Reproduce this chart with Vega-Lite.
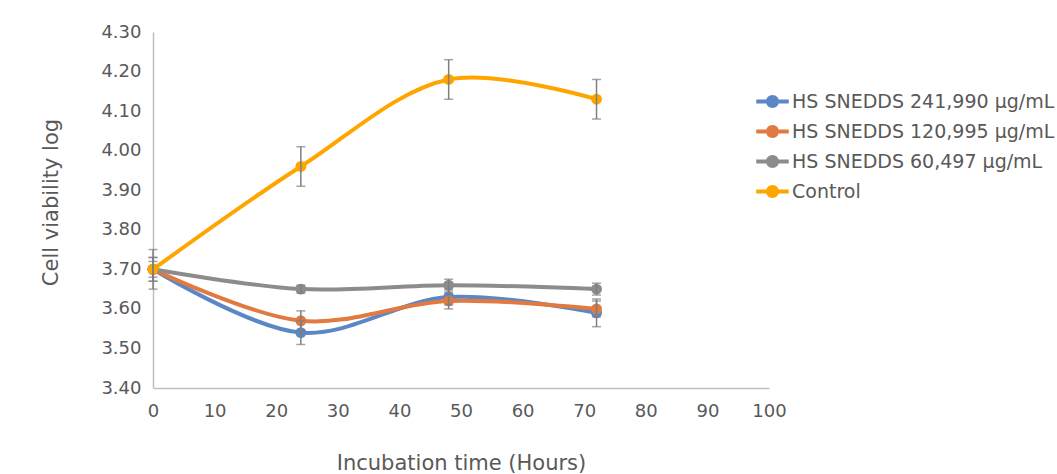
{
  "$schema": "https://vega.github.io/schema/vega-lite/v6.json",
  "width": 616,
  "height": 356,
  "autosize": "none",
  "padding": {"left": 153, "top": 32, "right": 288, "bottom": 86},
  "background": "white",
  "config": {
    "view": {"stroke": null},
    "font": "DejaVu Sans",
    "axis": {"domainColor": "#bfbfbf", "domainWidth": 1.5, "ticks": false, "grid": false, "labelColor": "#595959", "titleColor": "#595959", "labelFontSize": 18, "titleFontSize": 21, "titleFontWeight": "normal", "labelFont": "DejaVu Sans", "titleFont": "DejaVu Sans", "labelOverlap": false, "labelFlush": false},
    "legend": {"labelColor": "#595959", "labelFontSize": 19, "labelFont": "DejaVu Sans", "labelLimit": 400}
  },
  "data": {"values": [
    {"series": "HS SNEDDS 241,990 µg/mL", "t": 0, "v": 3.70, "lo": 3.67, "hi": 3.73},
    {"series": "HS SNEDDS 241,990 µg/mL", "t": 24, "v": 3.54, "lo": 3.51, "hi": 3.57},
    {"series": "HS SNEDDS 241,990 µg/mL", "t": 48, "v": 3.63, "lo": 3.61, "hi": 3.65},
    {"series": "HS SNEDDS 241,990 µg/mL", "t": 72, "v": 3.59, "lo": 3.555, "hi": 3.625},
    {"series": "HS SNEDDS 120,995 µg/mL", "t": 0, "v": 3.70, "lo": 3.67, "hi": 3.73},
    {"series": "HS SNEDDS 120,995 µg/mL", "t": 24, "v": 3.57, "lo": 3.545, "hi": 3.595},
    {"series": "HS SNEDDS 120,995 µg/mL", "t": 48, "v": 3.62, "lo": 3.60, "hi": 3.64},
    {"series": "HS SNEDDS 120,995 µg/mL", "t": 72, "v": 3.60, "lo": 3.58, "hi": 3.62},
    {"series": "HS SNEDDS 60,497 µg/mL", "t": 0, "v": 3.70, "lo": 3.65, "hi": 3.75},
    {"series": "HS SNEDDS 60,497 µg/mL", "t": 24, "v": 3.65, "lo": 3.64, "hi": 3.66},
    {"series": "HS SNEDDS 60,497 µg/mL", "t": 48, "v": 3.66, "lo": 3.645, "hi": 3.675},
    {"series": "HS SNEDDS 60,497 µg/mL", "t": 72, "v": 3.65, "lo": 3.635, "hi": 3.665},
    {"series": "Control", "t": 0, "v": 3.70, "lo": 3.68, "hi": 3.72},
    {"series": "Control", "t": 24, "v": 3.96, "lo": 3.91, "hi": 4.01},
    {"series": "Control", "t": 48, "v": 4.18, "lo": 4.13, "hi": 4.23},
    {"series": "Control", "t": 72, "v": 4.13, "lo": 4.08, "hi": 4.18}
  ]},
  "encoding": {
    "x": {"field": "t", "type": "quantitative", "scale": {"domain": [0, 100], "nice": false}, "axis": {"values": [0,10,20,30,40,50,60,70,80,90,100], "title": "Incubation time (Hours)", "labelPadding": 14, "titlePadding": 32, "labelFlush": false, "labelOverlap": false}}
  },
  "layer": [
    {
      "mark": {"type": "line", "interpolate": "catmull-rom", "strokeWidth": 4},
      "encoding": {
        "y": {"field": "v", "type": "quantitative", "scale": {"domain": [3.4, 4.3], "nice": false, "zero": false}, "axis": {"values": [3.4,3.5,3.6,3.7,3.8,3.9,4.0,4.1,4.2,4.3], "format": ".2f", "title": "Cell viability log", "labelPadding": 12, "titlePadding": 39, "titleY": 170, "labelFlush": false, "labelOverlap": false}},
        "color": {"field": "series", "type": "nominal", "sort": null, "scale": {"domain": ["HS SNEDDS 241,990 µg/mL", "HS SNEDDS 120,995 µg/mL", "HS SNEDDS 60,497 µg/mL", "Control"], "range": ["#5b87c5", "#e07a40", "#8c8c8c", "#ffa500"]}, "legend": {"title": null, "orient": "none", "legendX": 610, "legendY": 60, "symbolType": "M -2.5 -0.3 H 2.5 V 0.3 H -2.5 Z M 1 0 A 1 1 0 1 1 -1 0 A 1 1 0 1 1 1 0 Z", "symbolSize": 169, "symbolStrokeWidth": 0, "rowPadding": 10, "labelOffset": 10}}
      }
    },
    {
      "mark": {"type": "point", "filled": true, "size": 120, "opacity": 1},
      "encoding": {
        "y": {"field": "v", "type": "quantitative", "axis": {"values": [3.4,3.5,3.6,3.7,3.8,3.9,4.0,4.1,4.2,4.3], "format": ".2f", "title": "Cell viability log", "labelPadding": 12, "titlePadding": 39, "titleY": 170, "labelFlush": false, "labelOverlap": false}},
        "color": {"field": "series", "type": "nominal", "sort": null}
      }
    },
    {
      "mark": {"type": "rule", "color": "#7f7f7f", "strokeWidth": 1.5},
      "encoding": {"y": {"field": "lo", "type": "quantitative", "axis": {"values": [3.4,3.5,3.6,3.7,3.8,3.9,4.0,4.1,4.2,4.3], "format": ".2f", "title": "Cell viability log", "labelPadding": 12, "titlePadding": 39, "titleY": 170, "labelFlush": false, "labelOverlap": false}}, "y2": {"field": "hi"}}
    },
    {
      "mark": {"type": "tick", "orient": "horizontal", "color": "#7f7f7f", "size": 9, "thickness": 1.5},
      "encoding": {"y": {"field": "lo", "type": "quantitative", "axis": {"values": [3.4,3.5,3.6,3.7,3.8,3.9,4.0,4.1,4.2,4.3], "format": ".2f", "title": "Cell viability log", "labelPadding": 12, "titlePadding": 39, "titleY": 170, "labelFlush": false, "labelOverlap": false}}}
    },
    {
      "mark": {"type": "tick", "orient": "horizontal", "color": "#7f7f7f", "size": 9, "thickness": 1.5},
      "encoding": {"y": {"field": "hi", "type": "quantitative", "axis": {"values": [3.4,3.5,3.6,3.7,3.8,3.9,4.0,4.1,4.2,4.3], "format": ".2f", "title": "Cell viability log", "labelPadding": 12, "titlePadding": 39, "titleY": 170, "labelFlush": false, "labelOverlap": false}}}
    }
  ]
}
